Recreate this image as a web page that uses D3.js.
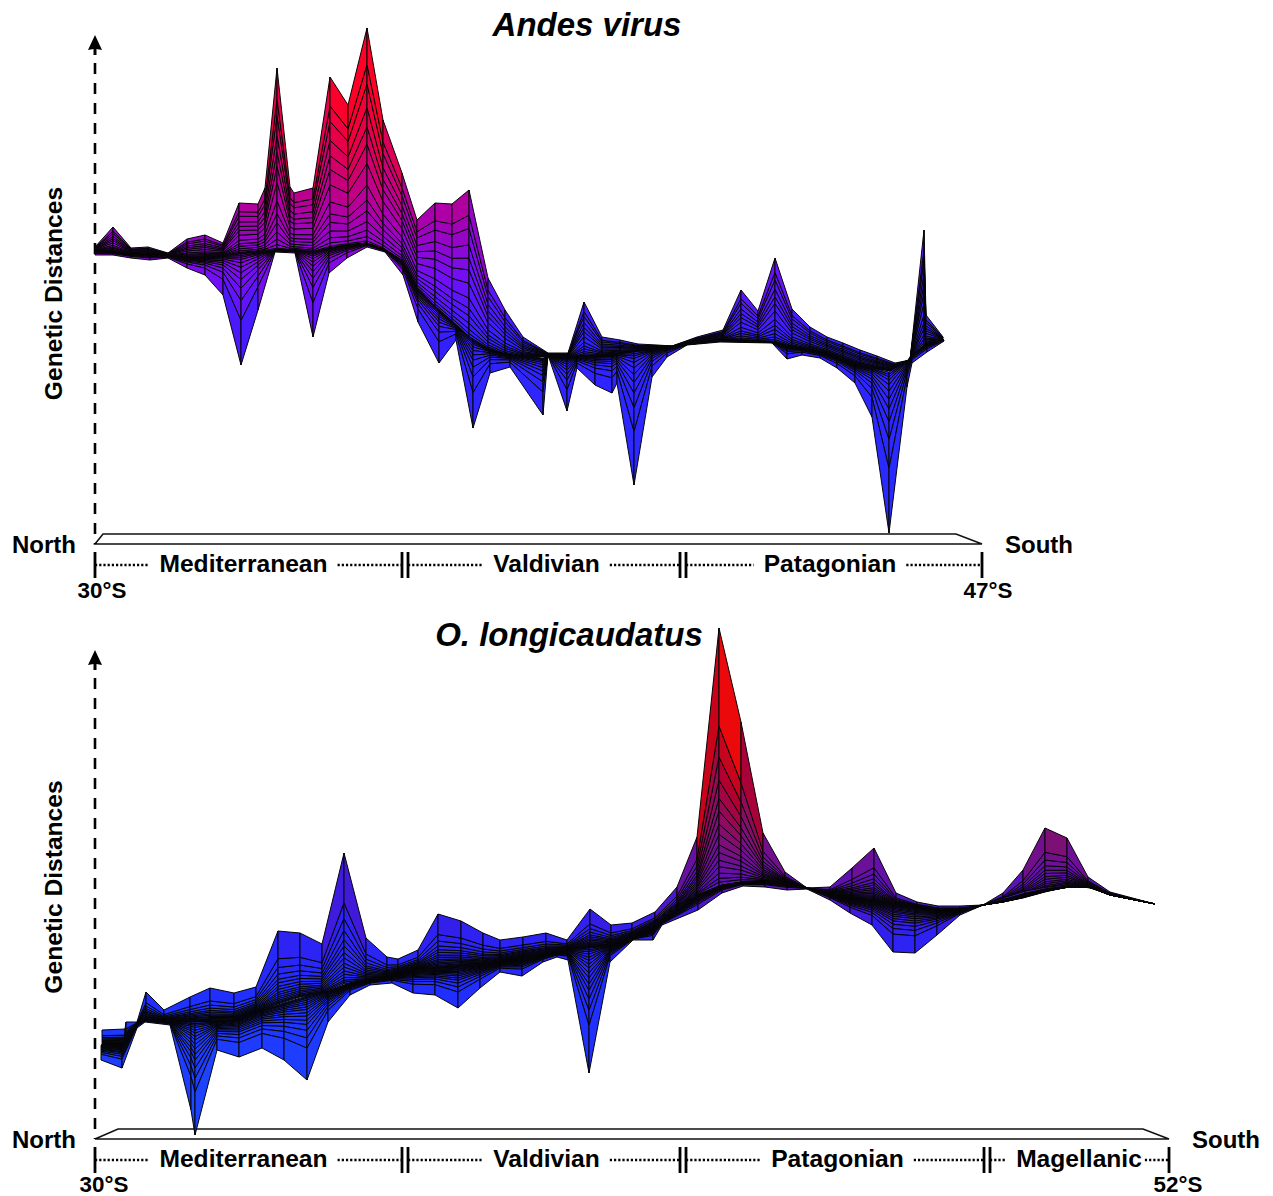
<!DOCTYPE html>
<html>
<head>
<meta charset="utf-8">
<script src="https://d3js.org/d3.v7.min.js"></script>
<style>
  html, body { margin: 0; padding: 0; background: #fff; }
  svg { display: block; }
  text { font-family: "Liberation Sans", Arial, sans-serif; font-weight: bold; fill: #000; }
</style>
</head>
<body>
<div id="chart"></div>
<script>
// Andes virus: back edge of the surface, its fold line, front edge
var andesBackPos = [0,18,36,53,73,92,110,128,144,163,170,182,195,199,218,235,253,272,288,307,322,340,357,374,393,410,428,453,473,489,507,525,543,562,577,602,628,646,663,680,697,715,732,748,765,782,800,815,829,831,848];
var andesBack = [288,308,287,288,282,296,300,292,332,331,347,467,348,342,347,458,430,507,415,362,315,332,331,345,257,225,198,182,182,233,198,195,191,190,189,198,205,245,224,277,226,208,198,192,185,179,172,175,305,220,198];
var andesBackFold = [284,283,281,280,279,277,277,279,281,283,284,285,285,285,283,287,290,292,286,274,246,228,213,197,186,180,178,179,177,178,179,181,183,186,188,192,195,194,194,193,188,185,181,175,169,166,164,176,189,191,195];
var andesFrontPos = [0,18,36,55,73,92,110,128,146,163,180,200,218,234,252,272,290,308,323,344,361,378,395,415,448,453,472,482,500,517,522,539,557,572,592,625,677,692,707,725,742,760,777,794,812,817,832,849];
var andesFront = [280,280,277,275,277,267,260,240,170,225,283,282,198,262,277,288,283,260,213,172,195,107,162,168,120,180,124,167,150,142,152,50,158,178,190,193,192,176,180,177,167,152,118,2,148,172,183,194];
var andesFrontFold = [284,283,281,280,279,277,277,279,281,283,285,285,283,287,290,292,285,273,245,225,210,195,185,180,177,179,177,179,179,180,181,183,185,188,191,195,193,189,187,183,178,170,167,163,174,180,191,195];

// O. longicaudatus: same three profiles
var longiBackPos = [7,30,31,42,51,69,95,115,139,161,183,205,227,249,271,292,303,323,343,366,388,405,428,451,472,495,516,537,560,582,602,624,646,668,690,712,735,757,779,801,822,843,865,888,908,928,950,972,993,1015,1060];
var longiBack = [100,101,108,108,138,120,133,142,137,143,199,197,186,277,192,173,171,180,216,209,197,190,193,197,190,221,205,207,218,243,293,502,408,297,258,242,243,262,282,237,228,224,224,225,237,260,302,292,253,238,226];
var longiBackFold = [85,85,90,106,110,108,108,108,109,118,126,133,137,146,150,152,156,161,162,164,165,168,172,175,180,182,184,192,203,219,235,244,248,249,247,242,236,232,230,224,222,219,219,225,228,232,238,243,243,235,226];
var longiFrontPos = [6,27,42,50,75,96,100,122,144,167,189,212,233,255,275,297,318,340,363,385,405,427,448,462,473,494,515,538,558,567,603,627,648,670,692,712,735,755,777,798,820,842,865,888,908,930,952,974,995,1015,1060];
var longiFront = [70,62,102,108,105,20,-5,80,73,82,70,50,108,135,145,147,137,135,122,142,158,154,168,173,170,57,168,190,190,205,220,237,244,243,240,241,230,217,205,178,177,195,215,225,232,239,243,245,242,236,226];
var longiFrontFold = [85,85,106,110,108,108,108,108,111,120,127,134,139,147,150,154,160,162,164,165,168,172,175,178,180,182,184,192,202,208,235,245,248,249,247,242,236,232,230,225,222,219,219,225,228,233,239,243,243,235,226];

// height -> colour stops
var andesColorValues = [100, 195, 255, 315, 385, 435];
var andesColors = ["#2a2aff", "#3320ff", "#7010f8", "#a800b0", "#e00050", "#ff0028"];
var longiColorValues = [30, 130, 200, 250, 290, 340, 390, 450];
var longiColors = ["#1c48ff", "#2030ff", "#3020f0", "#6010b0", "#80106f", "#b00030", "#dd0808", "#ff0a10"];

// where the mesh rows sit between the fold (0) and the edge (1)
var andesBackRows = [0,.01,.03,.06,.1,.15,.2,.27,.37,.46,.54,.63,.74,.83,1];
var andesFrontRows = [0,.015,.03,.05,.08,.12,.17,.23,.31,.42,.6,1];
var longiRows = [0,.015,.03,.05,.075,.1,.13,.16,.2,.24,.29,.34,.41,.5,.62,1];

var andesRegions = ["Mediterranean", "Valdivian", "Patagonian"];
var andesRegionCenters = [148.5, 451.5, 735];
var andesBreaks = [310, 588];
var longiRegions = ["Mediterranean", "Valdivian", "Patagonian", "Magellanic"];
var longiRegionCenters = [148.5, 451.5, 742.5, 984];
var longiBreaks = [310, 588, 892];

var svg = d3.select("#chart").append("svg")
    .attr("width", 1273)
    .attr("height", 1196);

function drawSurface(parent, x, y, color, pos, edge, fold, t) {
    var g = parent.append("g");
    var cells = [];
    for (var c = 0; c < pos.length - 1; c++) {
        for (var r = 0; r < t.length - 1; r++) {
            var a0 = fold[c] + (edge[c] - fold[c]) * t[r];
            var a1 = fold[c] + (edge[c] - fold[c]) * t[r + 1];
            var b0 = fold[c + 1] + (edge[c + 1] - fold[c + 1]) * t[r];
            var b1 = fold[c + 1] + (edge[c + 1] - fold[c + 1]) * t[r + 1];
            cells.push([[pos[c], a0], [pos[c], a1], [pos[c + 1], b1], [pos[c + 1], b0]]);
        }
    }
    g.selectAll("path").data(cells).enter().append("path")
        .attr("d", function (d) {
            return "M" + d.map(function (p) { return x(p[0]) + "," + y(p[1]); }).join("L") + "Z";
        })
        .attr("fill", function (d) { return color(d3.mean(d, function (p) { return p[1]; })); })
        .attr("stroke", "#050505")
        .attr("stroke-width", 1)
        .attr("stroke-linejoin", "round");
}

function drawPanel(p) {
    var g = svg.append("g");
    var x = d3.scaleLinear().domain([0, p.xMax]).range([95, p.xRight]);
    var y = d3.scaleLinear().domain([0, p.yMax]).range([p.base, p.base - p.yMax]);
    var color = d3.scaleLinear().domain(p.colorValues).range(p.colors).clamp(true);

    // floor of the 3D box
    var front = p.base + 9;
    g.append("path")
        .attr("d", "M95," + front + "L" + (95 + p.floorInset) + "," + (p.base - 1) +
            "L" + (p.xRight - 26) + "," + (p.base - 1) + "L" + p.xRight + "," + front + "Z")
        .attr("fill", "#fff").attr("stroke", "#111").attr("stroke-width", 1.6);

    // y axis, dashed with arrow
    var tip = y(p.yMax);
    var yAxis = g.append("g").attr("transform", "translate(95,0)")
        .call(d3.axisLeft(y).tickValues([]).tickSize(0));
    yAxis.select(".domain")
        .attr("d", "M0," + (tip + 28) + "L0," + front)
        .attr("fill", "none").attr("stroke", "#000").attr("stroke-width", 2.6)
        .attr("stroke-dasharray", "11,9");
    g.append("path")
        .attr("d", "M95," + tip + "L102," + (tip + 15) + "L96.5," + (tip + 14) + "L96.5," + (tip + 20) +
            "L93.5," + (tip + 20) + "L93.5," + (tip + 14) + "L88," + (tip + 15) + "Z")
        .attr("fill", "#000");

    drawSurface(g, x, y, color, p.backPos, p.back, p.backFold, p.backRows);
    drawSurface(g, x, y, color, p.frontPos, p.front, p.frontFold, p.frontRows);

    // titles and labels
    g.append("text").attr("x", p.titleX).attr("y", p.titleY)
        .attr("text-anchor", "middle").style("font-size", "33px").style("font-style", "italic")
        .text(p.title);
    g.append("text")
        .attr("transform", "translate(62," + p.yLabelY + ") rotate(-90)")
        .attr("text-anchor", "middle").style("font-size", "24.6px")
        .text("Genetic Distances");
    g.append("text").attr("x", 12).attr("y", p.base + 18).style("font-size", "24px").text("North");
    g.append("text").attr("x", p.southX).attr("y", p.base + 18).style("font-size", "24px").text("South");

    // region strip
    var barTop = p.base + 17, barBottom = p.base + 43, mid = p.base + 30;
    var ticks = [{ v: 0, d: 0 }, { v: p.xMax, d: 0 }];
    p.breaks.forEach(function (b) { ticks.push({ v: b, d: -3 }, { v: b, d: 3 }); });
    g.selectAll("line.tick").data(ticks).enter().append("line")
        .attr("class", "tick")
        .attr("x1", function (d) { return x(d.v) + d.d; })
        .attr("x2", function (d) { return x(d.v) + d.d; })
        .attr("y1", barTop).attr("y2", barBottom)
        .attr("stroke", "#000").attr("stroke-width", 2.8);

    var edges = [0].concat(p.breaks, [p.xMax]);
    p.regions.forEach(function (name, i) {
        var t = g.append("text").attr("x", x(p.regionCenters[i])).attr("y", p.base + 37)
            .attr("text-anchor", "middle").style("font-size", "24.6px").text(name);
        var w = t.node().getComputedTextLength();
        var cx = x(p.regionCenters[i]);
        var gapR = name == "Magellanic" ? 3 : 10;
        var segs = [[x(edges[i]) + (i ? 3 : 0), cx - w / 2 - 10], [cx + w / 2 + gapR, x(edges[i + 1]) - (i < edges.length - 2 ? 3 : 0)]];
        segs.forEach(function (s) {
            g.append("line").attr("x1", s[0]).attr("x2", s[1]).attr("y1", mid).attr("y2", mid)
                .attr("stroke", "#000").attr("stroke-width", 2.6).attr("stroke-dasharray", "2.2,2");
        });
    });

    g.append("text").attr("x", p.startX).attr("y", p.degY).attr("text-anchor", "middle")
        .style("font-size", "22.4px").text("30°S");
    g.append("text").attr("x", p.endX).attr("y", p.degY).attr("text-anchor", "middle")
        .style("font-size", "22.4px").text(p.endLabel);
}

drawPanel({
    title: "Andes virus", titleX: 587, titleY: 36, yLabelY: 293.5,
    base: 535, xMax: 887, xRight: 982, yMax: 500, floorInset: 8, southX: 1005,
    startX: 102, endX: 988, degY: 598, endLabel: "47°S",
    backRows: andesBackRows, frontRows: andesFrontRows,
    backPos: andesBackPos, back: andesBack, backFold: andesBackFold,
    frontPos: andesFrontPos, front: andesFront, frontFold: andesFrontFold,
    colorValues: andesColorValues, colors: andesColors,
    regions: andesRegions, regionCenters: andesRegionCenters, breaks: andesBreaks
});

drawPanel({
    title: "O. longicaudatus", titleX: 569, titleY: 646, yLabelY: 887,
    base: 1130, xMax: 1074, xRight: 1169, yMax: 480, floorInset: 23, southX: 1192,
    startX: 104, endX: 1178, degY: 1192, endLabel: "52°S",
    backRows: longiRows, frontRows: longiRows,
    backPos: longiBackPos, back: longiBack, backFold: longiBackFold,
    frontPos: longiFrontPos, front: longiFront, frontFold: longiFrontFold,
    colorValues: longiColorValues, colors: longiColors,
    regions: longiRegions, regionCenters: longiRegionCenters, breaks: longiBreaks
});
</script>
</body>
</html>
